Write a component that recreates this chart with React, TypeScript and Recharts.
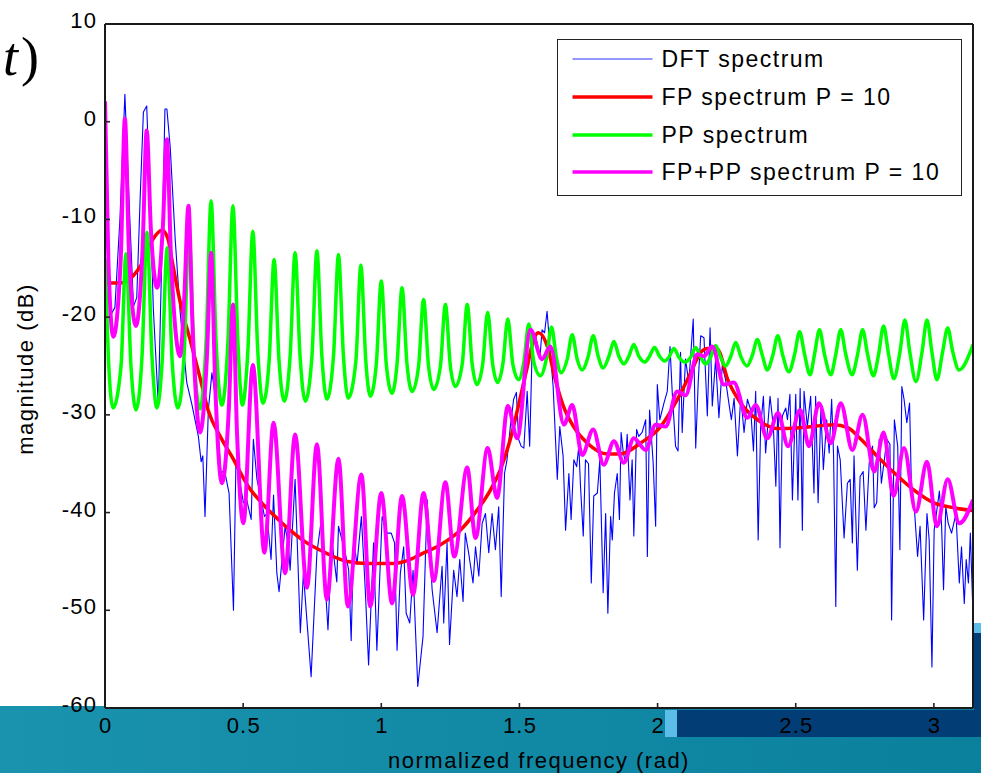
import React from 'react';
import { LineChart, Line, XAxis, YAxis, Legend } from 'recharts';

const W = 981;
const H = 773;

const xTicks = [0, 0.5, 1, 1.5, 2, 2.5, 3];
const yTicks = [-60, -50, -40, -30, -20, -10, 0, 10];

// [normalized frequency (rad), magnitude (dB)]
const dftSpectrum: [number, number][] = [
  [0, -1], [0.011, -12], [0.018, -19.9], [0.036, -19], [0.054, -10], [0.072, 2.8], [0.087, -8], [0.103, -18.9], [0.115, -18], [0.127, -8],
  [0.139, 1.0], [0.151, 1.6], [0.163, -8], [0.175, -19.2], [0.193, -29], [0.207, -12], [0.217, 1.3], [0.224, 1.3], [0.236, -2.6], [0.254, -12],
  [0.272, -19.5], [0.296, -26.7], [0.315, -29], [0.338, -32.2], [0.348, -34.8], [0.354, -34.2], [0.362, -40.4], [0.374, -29.5], [0.387, -25.7], [0.399, -28.1],
  [0.420, -36], [0.432, -35.6], [0.449, -38], [0.465, -50], [0.474, -34.6], [0.489, -37], [0.501, -39], [0.513, -38.7], [0.529, -40.7], [0.537, -32.5],
  [0.550, -36.6], [0.568, -39], [0.577, -40.4], [0.586, -40.1], [0.601, -44.8], [0.610, -38.2], [0.622, -46.2], [0.630, -48.1], [0.652, -41.4], [0.664, -43.5],
  [0.670, -45.9], [0.688, -36.6], [0.707, -52.3], [0.718, -46.2], [0.746, -56.8], [0.767, -44.1], [0.783, -40.7], [0.807, -52], [0.821, -42.8], [0.839, -47.1],
  [0.845, -41.4], [0.867, -43.8], [0.882, -45.9], [0.891, -53.1], [0.900, -42.8], [0.912, -45.3], [0.928, -40.4], [0.942, -47.9], [0.954, -55.6], [0.972, -43.1],
  [0.984, -54.1], [1.003, -40.4], [1.021, -42.1], [1.036, -42.1], [1.048, -43.1], [1.057, -54.1], [1.069, -46.2], [1.081, -43.5], [1.090, -50.3], [1.103, -51.3],
  [1.115, -45.9], [1.132, -57.8], [1.151, -52.7], [1.166, -38.7], [1.184, -47.9], [1.202, -52.3], [1.220, -45.5], [1.226, -51.3], [1.238, -43.1], [1.247, -53.5],
  [1.262, -45.9], [1.274, -48.6], [1.284, -44.8], [1.296, -49.1], [1.304, -42.1], [1.316, -44.1], [1.332, -47.2], [1.341, -43.5], [1.353, -46.5], [1.365, -41.1],
  [1.377, -40.1], [1.389, -44.1], [1.401, -40.1], [1.413, -43.8], [1.425, -39.4], [1.434, -48.6], [1.446, -36], [1.455, -34.6], [1.467, -31.2], [1.479, -28.4],
  [1.489, -27.7], [1.497, -32.5], [1.506, -33.2], [1.516, -33.4], [1.528, -27.6], [1.537, -33.2], [1.546, -23.3], [1.558, -21.8], [1.574, -24.2], [1.582, -21.3],
  [1.591, -21.6], [1.600, -19.4], [1.610, -23], [1.622, -27.1], [1.637, -36.6], [1.646, -31.2], [1.658, -34.2], [1.667, -41.8], [1.679, -36], [1.687, -40.7],
  [1.697, -34.6], [1.707, -35.3], [1.715, -33.2], [1.721, -37.3], [1.731, -42.4], [1.739, -34.6], [1.750, -35], [1.760, -47.2], [1.769, -38.3], [1.782, -38],
  [1.791, -34.6], [1.803, -48.2], [1.812, -40.1], [1.820, -50.3], [1.830, -40.4], [1.836, -42.8], [1.844, -38], [1.854, -36], [1.862, -40.7], [1.868, -31.8],
  [1.876, -33.9], [1.884, -34.9], [1.890, -32], [1.900, -38.7], [1.908, -34.6], [1.914, -42.4], [1.924, -31.5], [1.932, -32.2], [1.944, -31.8], [1.957, -30.5],
  [1.963, -44.5], [1.971, -29.5], [1.984, -34.9], [1.993, -41.4], [1.999, -26.9], [2.008, -30.5], [2.023, -28.8], [2.035, -27.6], [2.045, -23], [2.053, -27.7],
  [2.065, -33.2], [2.074, -33.7], [2.083, -23.6], [2.089, -31.8], [2.101, -24.3], [2.113, -26.7], [2.129, -20.2], [2.138, -33.4], [2.147, -26.7], [2.156, -21.9],
  [2.168, -22.1], [2.180, -30.1], [2.190, -21.1], [2.198, -29.1], [2.210, -24.3], [2.222, -30.3], [2.234, -25], [2.246, -26.4], [2.258, -28.8], [2.267, -30.5],
  [2.277, -28.3], [2.289, -34.2], [2.301, -28.1], [2.313, -31.8], [2.325, -28.4], [2.337, -29.5], [2.347, -33.7], [2.355, -27.6], [2.364, -42.8], [2.373, -31.2],
  [2.383, -28.1], [2.391, -33.9], [2.407, -28.1], [2.419, -31.2], [2.428, -37.3], [2.436, -28.3], [2.443, -43.6], [2.452, -30.1], [2.464, -29.3], [2.470, -30.5],
  [2.479, -27.9], [2.488, -38.7], [2.500, -27.9], [2.508, -38.7], [2.516, -27.3], [2.524, -41.8], [2.530, -27.6], [2.542, -31.2], [2.554, -28.1], [2.566, -38],
  [2.572, -28.1], [2.581, -39], [2.591, -29.5], [2.600, -35.6], [2.612, -30.5], [2.621, -33.9], [2.630, -28.4], [2.637, -34.2], [2.645, -49.6], [2.651, -33.2],
  [2.661, -34.6], [2.675, -42.6], [2.687, -37], [2.697, -36.6], [2.705, -43.1], [2.711, -34.2], [2.723, -45.9], [2.733, -36.3], [2.744, -35.8], [2.754, -41.8],
  [2.766, -34.9], [2.778, -33.2], [2.784, -39.5], [2.793, -39], [2.802, -32.5], [2.810, -37], [2.830, -32.5], [2.841, -33], [2.847, -51], [2.857, -30.5],
  [2.869, -33.2], [2.877, -43.8], [2.884, -27.1], [2.892, -28.4], [2.902, -30.8], [2.912, -28.8], [2.919, -37.7], [2.929, -39.4], [2.941, -44.5], [2.950, -41.4],
  [2.963, -51], [2.975, -40.1], [2.983, -42.8], [2.993, -55.8], [3.001, -41.8], [3.011, -39.7], [3.020, -37.8], [3.028, -41.4], [3.035, -47.9], [3.043, -39.4],
  [3.052, -41.1], [3.064, -42.1], [3.080, -40.1], [3.092, -47.2], [3.100, -43.5], [3.110, -49.3], [3.117, -44.8], [3.125, -47.2], [3.132, -42.1], [3.141, -50],
];

const fpSpectrum: [number, number][] = [
  [0, -16.5], [0.054, -16.5], [0.101, -15.8], [0.138, -14.3], [0.174, -12.0], [0.207, -11.1], [0.228, -12.0], [0.242, -14.1], [0.260, -16.8], [0.278, -19.2],
  [0.308, -22.3], [0.344, -26.2], [0.373, -29.5], [0.417, -32.2], [0.460, -34.3], [0.518, -37.3], [0.580, -39.4], [0.627, -40.7], [0.670, -41.8], [0.725, -43.0],
  [0.797, -44.1], [0.877, -45.0], [0.953, -45.2], [1.051, -45.2], [1.105, -44.8], [1.141, -44.3], [1.214, -43.3], [1.286, -41.8], [1.348, -39.7], [1.395, -37.7],
  [1.431, -35.6], [1.467, -32.5], [1.496, -29.1], [1.529, -25.0], [1.551, -22.3], [1.569, -21.6], [1.601, -23.0], [1.630, -26.4], [1.659, -29.1], [1.696, -31.2],
  [1.746, -32.9], [1.819, -34.0], [1.866, -34.0], [1.938, -32.9], [2.011, -31.2], [2.072, -28.4], [2.120, -25.7], [2.156, -23.6], [2.181, -23.2], [2.217, -23.3],
  [2.254, -26.4], [2.301, -28.8], [2.362, -30.5], [2.435, -31.4], [2.518, -31.3], [2.638, -31.0], [2.688, -31.3], [2.736, -32.5], [2.797, -34.3], [2.855, -35.9],
  [2.928, -37.7], [3.000, -39.0], [3.072, -39.5], [3.1416, -39.8],
];

const ppSpectrum: [number, number][] = [
  [0, -14], [0.012, -24], [0.029, -29.3],
  [0.058, -25], [0.076, -13.5], [0.094, -25], [0.112, -29.5],
  [0.134, -24], [0.152, -11.3], [0.170, -24], [0.188, -29.3],
  [0.207, -24.5], [0.225, -12.9], [0.243, -24.5], [0.264, -29.3],
  [0.286, -24], [0.304, -11.5], [0.322, -24], [0.344, -29.4],
  [0.366, -22.5], [0.384, -8.1], [0.402, -22.5], [0.423, -29.0],
  [0.445, -22.5], [0.463, -8.6], [0.481, -22.5], [0.497, -29.0],
  [0.517, -23.5], [0.535, -11.2], [0.553, -23.5], [0.572, -28.8],
  [0.594, -24.5], [0.612, -14.1], [0.630, -24.5], [0.649, -28.6],
  [0.670, -24], [0.688, -13.4], [0.706, -24], [0.725, -28.6],
  [0.749, -24], [0.767, -13.2], [0.785, -24], [0.803, -28.4],
  [0.827, -24], [0.845, -13.6], [0.863, -24], [0.880, -28.3],
  [0.908, -24.5], [0.926, -14.7], [0.944, -24.5], [0.960, -28.1],
  [0.982, -24.8], [1.000, -16.3], [1.018, -24.8], [1.039, -27.8],
  [1.057, -24.8], [1.075, -17.0], [1.093, -24.8], [1.112, -27.6],
  [1.135, -25], [1.153, -18.2], [1.171, -25], [1.190, -27.4],
  [1.214, -25], [1.232, -18.7], [1.250, -25], [1.268, -27.1],
  [1.293, -24.8], [1.311, -18.7], [1.329, -24.8], [1.346, -26.9],
  [1.367, -24.8], [1.385, -19.5], [1.403, -24.8], [1.421, -26.7],
  [1.440, -24.8], [1.458, -20.2], [1.476, -24.8], [1.497, -26.4],
  [1.516, -24.6], [1.534, -20.7], [1.552, -24.6], [1.576, -26.0],
  [1.598, -24.2], [1.616, -21.0], [1.634, -24.2], [1.651, -25.7],
  [1.673, -24.3], [1.691, -21.8], [1.709, -24.3], [1.727, -25.4],
  [1.749, -24.0], [1.767, -21.9], [1.785, -24.0], [1.803, -25.2],
  [1.824, -24.0], [1.842, -22.5], [1.860, -24.0], [1.878, -24.8],
  [1.896, -24.0], [1.914, -22.8], [1.932, -24.0], [1.953, -24.6],
  [1.971, -24.0], [1.989, -23.1], [2.007, -24.0], [2.026, -24.5],
  [2.041, -24.1], [2.059, -23.2], [2.077, -24.1], [2.099, -24.6],
  [2.120, -24.1], [2.138, -23.1], [2.156, -24.1], [2.174, -24.8],
  [2.192, -24.1], [2.210, -22.9], [2.228, -24.1], [2.246, -25.0],
  [2.265, -24.0], [2.283, -22.6], [2.301, -24.0], [2.323, -25.0],
  [2.343, -23.9], [2.361, -22.3], [2.379, -23.9], [2.397, -25.4],
  [2.417, -23.9], [2.435, -21.9], [2.453, -23.9], [2.475, -25.6],
  [2.496, -23.8], [2.514, -21.5], [2.532, -23.8], [2.552, -25.9],
  [2.568, -23.8], [2.586, -21.3], [2.604, -23.8], [2.627, -25.9],
  [2.645, -23.8], [2.663, -21.3], [2.681, -23.8], [2.704, -25.9],
  [2.724, -23.8], [2.742, -21.3], [2.760, -23.8], [2.781, -26.0],
  [2.800, -23.8], [2.818, -20.9], [2.836, -23.8], [2.855, -26.3],
  [2.877, -23.6], [2.895, -20.3], [2.913, -23.6], [2.935, -26.6],
  [2.957, -23.6], [2.975, -20.3], [2.993, -23.6], [3.011, -26.4],
  [3.032, -23.5], [3.050, -21.1], [3.068, -23.5], [3.091, -25.4],
  [3.1416, -22.8],
];

const fpPpSpectrum: [number, number][] = [
  [0, 2.1], [0.012, -14], [0.030, -22.0], [0.057, -14], [0.072, 0.3], [0.087, -13.5], [0.112, -20.9], [0.136, -13], [0.151, -0.9], [0.166, -11],
  [0.189, -17.0], [0.209, -11], [0.224, -1.8], [0.239, -14], [0.272, -24.0], [0.287, -18], [0.302, -8.6], [0.317, -21], [0.344, -31.8], [0.369, -24],
  [0.384, -13.4], [0.399, -27], [0.423, -37.0], [0.448, -29.5], [0.463, -18.7], [0.478, -32], [0.501, -41.1], [0.535, -24.9], [0.577, -44.1], [0.610, -30.8],
  [0.652, -46.2], [0.688, -32.0], [0.731, -47.7], [0.767, -33.0], [0.803, -48.9], [0.845, -34.5], [0.879, -49.6], [0.928, -36.1], [0.960, -49.6], [1.000, -38.0],
  [1.039, -49.3], [1.075, -38.3], [1.115, -48.4], [1.153, -38.0], [1.190, -47.0], [1.232, -36.9], [1.264, -44.5], [1.311, -35.4], [1.341, -42.6], [1.385, -33.4],
  [1.419, -38.5], [1.458, -29.1], [1.492, -32.4], [1.540, -21.3], [1.582, -24.3], [1.612, -23.0], [1.661, -31.0], [1.691, -29.0], [1.727, -34.1], [1.767, -31.5],
  [1.805, -35.1], [1.842, -32.7], [1.878, -34.9], [1.914, -32.4], [1.957, -33.6], [1.993, -31.0], [2.029, -31.2], [2.071, -27.6], [2.101, -28.0], [2.144, -23.8],
  [2.168, -24.0], [2.198, -23.0], [2.240, -26.9], [2.276, -26.7], [2.325, -30.3], [2.355, -29.0], [2.397, -32.4], [2.436, -29.8], [2.472, -33.2], [2.516, -29.5],
  [2.548, -33.2], [2.584, -28.8], [2.627, -32.9], [2.663, -28.8], [2.705, -33.6], [2.742, -30.0], [2.784, -35.8], [2.818, -31.8], [2.854, -38.3], [2.892, -33.4],
  [2.935, -39.9], [2.975, -34.8], [3.011, -41.4], [3.050, -36.6], [3.092, -41.1], [3.1416, -38.7],
];

const seriesNames = ['DFT spectrum', 'FP spectrum P = 10', 'PP spectrum', 'FP+PP spectrum P = 10'];

const toRows = (pts: [number, number][]) => pts.map(([f, db]) => ({ f, db }));

const FONT = '"Liberation Sans", Arial, Helvetica, sans-serif';

const lineStyles = [
  { color: '#0000ff', width: 1.1 },
  { color: '#ff0000', width: 3.5 },
  { color: '#00ff00', width: 3.5 },
  { color: '#ff00ff', width: 4 },
];

const XTick = (props: any) => {
  const { x, y, payload } = props;
  return (
    <text x={x + 0.6} y={y + 16} textAnchor="middle" fontFamily={FONT} fontSize={22} letterSpacing={1.2} fill="#000">
      {String(payload.value)}
    </text>
  );
};

const YTick = (props: any) => {
  const { x, y, payload } = props;
  return (
    <text x={x + 1.2} y={y + 4} textAnchor="end" fontFamily={FONT} fontSize={22} letterSpacing={1.2} fill="#000">
      {String(payload.value)}
    </text>
  );
};

const XLabel = (props: any) => {
  const vb = props.viewBox || { x: 105, y: 708, width: 868, height: 65 };
  const cx = vb.x + vb.width / 2;
  return (
    <text x={cx} y={vb.y + vb.height - 5} textAnchor="middle" fontFamily={FONT} fontSize={22} letterSpacing={1.5} fill="#000">
      normalized frequency (rad)
    </text>
  );
};

const YLabel = (props: any) => {
  const vb = props.viewBox || { x: 0, y: 24, width: 105, height: 684 };
  const cy = vb.y + vb.height / 2 + 3;
  const bx = vb.x + 33;
  return (
    <text x={bx} y={cy} transform={`rotate(-90 ${bx} ${cy})`} textAnchor="middle" fontFamily={FONT} fontSize={22} letterSpacing={1.5} fill="#000">
      magnitude (dB)
    </text>
  );
};

const renderLegend = () => (
  <div
    style={{
      width: 405,
      height: 157,
      boxSizing: 'border-box',
      border: '1.5px solid #222',
      background: '#fff',
      paddingTop: 0.5,
    }}
  >
    {seriesNames.map((name, i) => (
      <div key={name} style={{ display: 'flex', alignItems: 'center', height: 37.7 }}>
        <svg width={103.5} height={10} style={{ flex: 'none', display: 'block' }}>
          <line x1={14.5} x2={94.5} y1={5} y2={5} stroke={lineStyles[i].color} strokeWidth={i === 0 ? 1.3 : 3.5} strokeOpacity={i === 0 ? 0.55 : 1} />
        </svg>
        <span style={{ fontFamily: FONT, fontSize: 23, letterSpacing: 1.5, color: '#000', lineHeight: '26px', whiteSpace: 'nowrap' }}>
          {name}
        </span>
      </div>
    ))}
  </div>
);

export default function App() {
  const datasets = [dftSpectrum, fpSpectrum, ppSpectrum, fpPpSpectrum].map(toRows);
  const axisLine = { stroke: '#1a1a1a', strokeWidth: 2 };
  const tickLine = { stroke: '#222', strokeWidth: 1.6 };
  return (
    <div style={{ position: 'absolute', left: 0, top: 0, width: W, height: H, background: '#fff', overflow: 'hidden' }}>
      {/* slide background elements */}
      <div style={{ position: 'absolute', left: 0, top: 706, width: W, height: H - 706, background: 'linear-gradient(to right, #1a93ae, #0a809d)' }} />
      <div style={{ position: 'absolute', left: 677, top: 710, width: W - 677, height: 27, background: '#023e75' }} />
      <div style={{ position: 'absolute', left: 665, top: 710, width: 12, height: 27, background: '#5bbde8' }} />
      <div style={{ position: 'absolute', left: 974, top: 623, width: 7, height: 10, background: '#5bbde8' }} />
      <div style={{ position: 'absolute', left: 974, top: 633, width: 7, height: 104, background: '#023e75' }} />
      <div style={{ position: 'absolute', left: 105, top: 24, width: 868, height: 684, background: '#fff' }} />
      <svg style={{ position: 'absolute', left: 0, top: 0 }} width={80} height={100}>
        <text x={3} y={75} fontFamily='"Liberation Serif", "DejaVu Serif", serif' fontSize={54} fill="#000">
          <tspan fontStyle="italic">t</tspan>
          <tspan dx={3}>)</tspan>
        </text>
      </svg>
      <div style={{ position: 'absolute', left: 0, top: 0 }}>
        <LineChart width={W} height={H} margin={{ top: 23, right: 7, bottom: 0, left: 0 }}>
          <XAxis
            xAxisId="b"
            type="number"
            dataKey="f"
            domain={[0, Math.PI]}
            ticks={xTicks}
            interval={0}
            height={65}
            axisLine={axisLine}
            tickLine={tickLine}
            tickSize={-5}
            tickMargin={14}
            tick={<XTick />}
            label={<XLabel />}
            allowDataOverflow
          />
          <XAxis
            xAxisId="t"
            orientation="top"
            type="number"
            dataKey="f"
            domain={[0, Math.PI]}
            ticks={xTicks}
            interval={0}
            height={1}
            axisLine={axisLine}
            tickLine={tickLine}
            tickSize={-5}
            tick={false}
            allowDataOverflow
          />
          <YAxis
            yAxisId="l"
            type="number"
            domain={[-60, 10]}
            ticks={yTicks}
            interval={0}
            width={105}
            axisLine={axisLine}
            tickLine={tickLine}
            tickSize={-5}
            tickMargin={14}
            tick={<YTick />}
            label={<YLabel />}
            allowDataOverflow
          />
          <YAxis
            yAxisId="r"
            orientation="right"
            type="number"
            domain={[-60, 10]}
            ticks={yTicks}
            interval={0}
            width={1}
            axisLine={axisLine}
            tickLine={tickLine}
            tickSize={-5}
            tick={false}
            allowDataOverflow
          />
          {datasets.map((rows, i) => (
            <Line
              key={seriesNames[i]}
              name={seriesNames[i]}
              xAxisId="b"
              yAxisId="l"
              data={rows}
              dataKey="db"
              type={i === 0 ? 'linear' : 'monotone'}
              stroke={lineStyles[i].color}
              strokeWidth={lineStyles[i].width}
              strokeLinejoin="round"
              dot={false}
              activeDot={false}
              isAnimationActive={false}
            />
          ))}
          <Legend
            layout="vertical"
            align="center"
            verticalAlign="middle"
            content={renderLegend}
            wrapperStyle={{ position: 'absolute', left: 557, top: 39, width: 405, height: 157 }}
          />
        </LineChart>
      </div>
    </div>
  );
}
